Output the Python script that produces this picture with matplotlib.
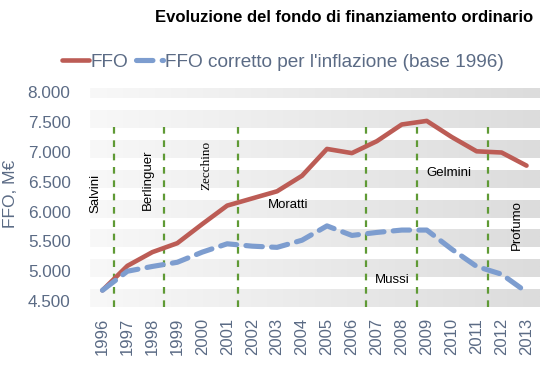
import numpy as np
import matplotlib
matplotlib.use("Agg")
import matplotlib.pyplot as plt
from matplotlib.colors import LinearSegmentedColormap

plt.rcParams['font.family'] = ['Liberation Sans', 'DejaVu Sans']

years = list(range(1996, 2014))
ffo = [4680, 5090, 5320, 5470, 5790, 6100, 6220, 6340, 6600, 7050,
       6980, 7180, 7460, 7520, 7250, 7010, 6990, 6770]
ffo_real = [4680, 5000, 5080, 5150, 5320, 5460, 5420, 5400, 5520, 5760,
            5600, 5650, 5690, 5690, 5370, 5080, 4950, 4650]

# ministers: name, x position (category index), y position, rotation, serif
ministri = [("Salvini", -0.3, 6310, 90, False),
            ("Berlinguer", 1.83, 6540, 90, False),
            ("Zecchino", 4.17, 6780, 90, True),
            ("Moratti", 7.45, 6110, 0, False),
            ("Mussi", 11.6, 4850, 0, False),
            ("Gelmini", 13.9, 6650, 0, False),
            ("Profumo", 16.6, 5770, 90, False)]
cambi = [0.46, 2.47, 5.44, 10.55, 12.6, 15.45]  # government changes

yticks = [4500, 5000, 5500, 6000, 6500, 7000, 7500, 8000]

txt_col = "#5b6b85"
red = "#bc5c55"
blue = "#7d9dcf"
green = "#5f9a35"

fig = plt.figure(figsize=(5.5, 3.83), dpi=100)
ax = fig.add_axes([0.1636, 0.1984, 0.8164, 0.5716])

x = np.arange(len(years))
ymin, ymax = 4400, 8070
ax.set_xlim(-0.5, len(years) - 0.5)
ax.set_ylim(ymin, ymax)

# gradient bands
cmap = LinearSegmentedColormap.from_list("band", ["#f8f8f8", "#dcdcdc"])
grad = np.linspace(0, 1, 256).reshape(1, -1)
for v in yticks:
    lo, hi = max(v - 100, ymin), min(v + 200, ymax)
    ax.imshow(grad, extent=[-0.5, len(years) - 0.5, lo, hi], aspect='auto',
              cmap=cmap, zorder=0, interpolation='bilinear')

ax.vlines(cambi, ymin, 7450, colors=green, linestyles=(0, (3, 3)), lw=1.6, zorder=2)

ax.plot(x, ffo, color=red, lw=3.3, solid_capstyle='round', solid_joinstyle='round',
        zorder=3, label="FFO")
ax.plot(x, ffo_real, color=blue, lw=3.7, dashes=(3.2, 1.8), dash_capstyle='round',
        zorder=3, label="FFO corretto per l'inflazione (base 1996)")

for name, xi, yi, rot, serif in ministri:
    fam = ['Liberation Serif'] if serif else ['Liberation Sans']
    ax.text(xi, yi, name, rotation=rot, ha='center', va='center', fontsize=9.5,
            family=fam, color='black', zorder=4)

ax.set_xticks(x)
ax.set_xticklabels([str(y) for y in years], rotation=90, fontsize=12, color=txt_col)
ax.set_yticks(yticks)
ax.set_yticklabels([f"{v // 1000}.{v % 1000:03d}" for v in yticks], fontsize=12.3,
                   color=txt_col)
ax.tick_params(length=0, pad=8)
ax.tick_params(axis='y', pad=14)
for s in ax.spines.values():
    s.set_visible(False)
ax.set_ylabel("FFO, M€", fontsize=12.5, color=txt_col, va='center')
ax.yaxis.set_label_coords(-0.176, 0.516)

fig.legend(loc='center', bbox_to_anchor=(283 / 550, 1 - 62 / 383), ncol=2, frameon=False,
           fontsize=13.7, labelcolor=txt_col, handlelength=1.4, handletextpad=0.1,
           columnspacing=0.4)

fig.text(344 / 550, 1 - 18 / 383, "Evoluzione del fondo di finanziamento ordinario",
         ha='center', va='center', fontsize=12, fontweight='bold', color='black')

fig.savefig("out.png", dpi=100)
